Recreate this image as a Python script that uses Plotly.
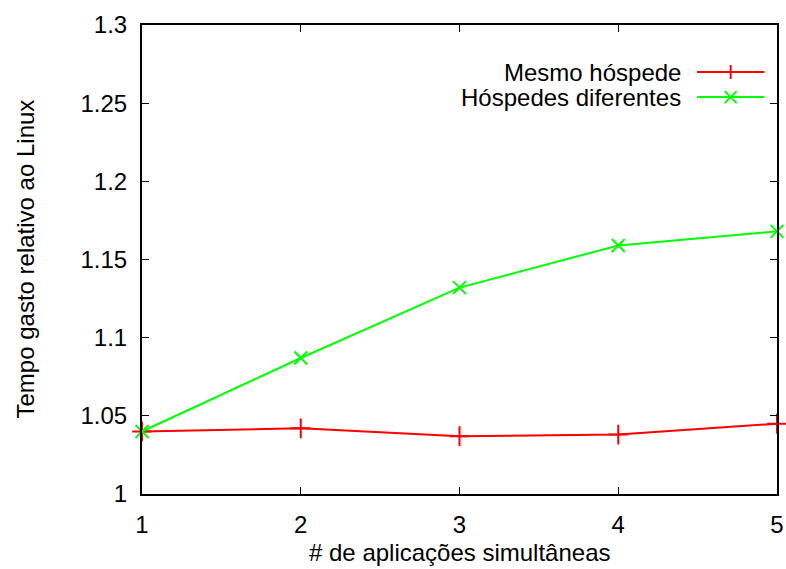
import plotly.graph_objects as go

x_apps = [1, 2, 3, 4, 5]
mesmo_hospede = [1.040, 1.042, 1.037, 1.038, 1.045]
hospedes_diferentes = [1.040, 1.087, 1.132, 1.159, 1.168]
y_ticks = [1, 1.05, 1.1, 1.15, 1.2, 1.25, 1.3]
y_tick_labels = ["1", "1.05", "1.1", "1.15", "1.2", "1.25", "1.3"]
series_names = ["Mesmo hóspede", "Hóspedes diferentes"]
x_title = "# de aplicações simultâneas"
y_title = "Tempo gasto relativo ao Linux"

RED = "#ff0000"
GREEN = "#00ff00"
FONT = "Liberation Sans, Arial, sans-serif"
FS = 24

fig = go.Figure()
fig.add_trace(go.Scatter(
    x=x_apps, y=mesmo_hospede, mode="lines+markers", name=series_names[0],
    line=dict(color=RED, width=2),
    marker=dict(symbol="cross-thin", size=14, line=dict(color=RED, width=2)),
    cliponaxis=False, showlegend=False))
fig.add_trace(go.Scatter(
    x=x_apps, y=hospedes_diferentes, mode="lines+markers", name=series_names[1],
    line=dict(color=GREEN, width=2),
    marker=dict(symbol="x-thin", size=13, line=dict(color=GREEN, width=2)),
    cliponaxis=False, showlegend=False))

# custom gnuplot-style legend (text right, sample on the right)
legend_rows = [(series_names[0], RED, "M-7,0 L7,0 M0,-7 L0,7"),
               (series_names[1], GREEN, "M-6,-6 L6,6 M-6,6 L6,-6")]
row_y = [0.8997, 0.8463]
shapes = []
annotations = []
for (name, col, mpath), yy in zip(legend_rows, row_y):
    annotations.append(dict(x=0.852, y=yy, xref="paper", yref="paper", text=name,
                            showarrow=False, xanchor="right", yanchor="middle",
                            font=dict(family=FONT, size=FS, color="black")))
    shapes.append(dict(type="line", xref="paper", yref="paper",
                       x0=0.874, x1=0.980, y0=yy, y1=yy,
                       line=dict(color=col, width=2)))
    shapes.append(dict(type="path", xref="paper", yref="paper",
                       xsizemode="pixel", ysizemode="pixel",
                       xanchor=0.927, yanchor=yy, path=mpath,
                       line=dict(color=col, width=2)))

# axis titles
annotations.append(dict(x=0.5, y=0, xref="paper", yref="paper", text=x_title,
                        showarrow=False, xanchor="center", yanchor="middle",
                        yshift=-58, font=dict(family=FONT, size=FS, color="black")))
annotations.append(dict(x=0, y=0.5, xref="paper", yref="paper", text=y_title,
                        showarrow=False, xanchor="center", yanchor="middle",
                        textangle=-90, xshift=-117,
                        font=dict(family=FONT, size=FS, color="black")))

fig.update_layout(
    width=786, height=569,
    margin=dict(l=142, r=9, t=25, b=75, autoexpand=False),
    paper_bgcolor="white", plot_bgcolor="white",
    font=dict(family=FONT, size=FS, color="black"),
    shapes=shapes, annotations=annotations,
    showlegend=False,
    xaxis=dict(range=[1, 5], tickvals=x_apps, ticktext=[str(v) for v in x_apps],
               ticks="inside", ticklen=7, tickwidth=1, tickcolor="black",
               showline=True, linecolor="black", linewidth=2, mirror="ticks",
               showgrid=False, zeroline=False, ticklabelstandoff=8,
               automargin=False),
    yaxis=dict(range=[1, 1.3], tickvals=y_ticks, ticktext=y_tick_labels,
               ticks="inside", ticklen=7, tickwidth=1, tickcolor="black",
               showline=True, linecolor="black", linewidth=2, mirror="ticks",
               showgrid=False, zeroline=False, ticklabelstandoff=8,
               automargin=False),
)

fig.write_html("out.html",
               config={"displayModeBar": False},
               post_script="document.body.style.margin='0';document.body.style.overflow='hidden';")
